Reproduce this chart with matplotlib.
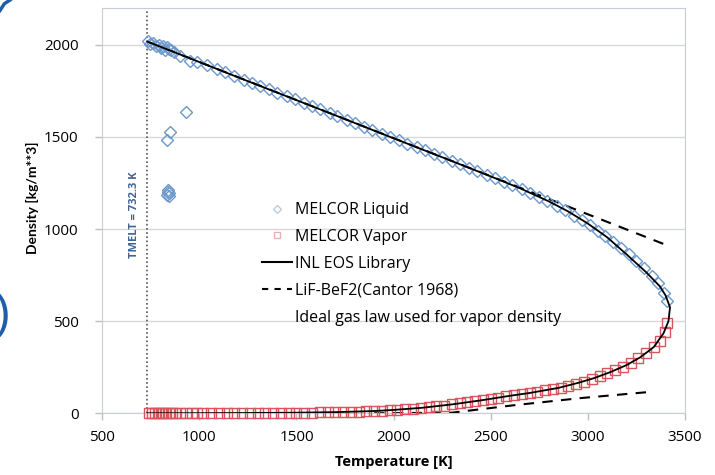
import numpy as np
import matplotlib.pyplot as plt
from matplotlib.lines import Line2D

plt.rcParams['font.family'] = ['Open Sans', 'DejaVu Sans']

# INL EOS library curve (liquid branch then vapor branch)
inl_T = [732, 1000, 1250, 1500, 1750, 2000, 2250, 2500, 2650, 2800, 2900, 3000,
         3100, 3200, 3300, 3370, 3400, 3423,
         3415, 3390, 3340, 3270, 3200, 3115, 3030, 2950, 2850, 2700, 2600, 2450,
         2300, 2150, 2000, 1900, 1700, 1500, 1200, 900, 732]
inl_rho = [2018, 1907, 1803, 1700, 1597, 1493, 1390, 1286, 1222, 1150, 1095, 1030,
           955, 862, 766, 690, 640, 575,
           500, 435, 360, 304, 262, 223, 190, 165, 138, 110, 95, 70,
           48, 30, 18, 12, 6, 3, 1, 0, 0]

# Cantor 1968 correlation
cantor_liq_T = [732, 3400]
cantor_liq_rho = [2018, 915]
cantor_vap_T = [1900, 2300, 2615, 2960, 3300]
cantor_vap_rho = [0, 3, 43, 82, 114]

# MELCOR liquid
liq_T = [735, 745, 760, 775, 790, 805, 815, 825, 835, 845, 855, 870, 900, 950, 990,
         1040, 1090, 1130, 1180, 1230, 1270, 1310, 1360, 1400, 1450, 1490, 1540,
         1580, 1620, 1670, 1710, 1760, 1800, 1850, 1890, 1940, 1980, 2030, 2070,
         2120, 2160, 2210, 2250, 2300, 2340, 2390, 2430, 2480, 2520, 2570, 2610,
         2660, 2700, 2750, 2790, 2840, 2880, 2930, 2970, 3010, 3050, 3090, 3130,
         3170, 3210, 3250, 3290, 3330, 3360, 3390, 3410,
         932, 850, 834, 838, 842, 835, 845, 840]
liq_rho = [2020, 2005, 2012, 1995, 2000, 1985, 1995, 1975, 1990, 1980, 1970, 1960,
           1940, 1912, 1905, 1890, 1870, 1853, 1833, 1812, 1795, 1779, 1758, 1741,
           1721, 1704, 1683, 1667, 1650, 1630, 1613, 1592, 1576, 1555, 1539, 1518,
           1501, 1481, 1464, 1443, 1427, 1406, 1390, 1369, 1352, 1332, 1315, 1294,
           1278, 1257, 1240, 1218, 1198, 1174, 1153, 1126, 1103, 1073, 1048, 1020,
           992, 962, 931, 898, 862, 825, 786, 743, 705, 655, 610,
           1636, 1527, 1484, 1210, 1195, 1185, 1180, 1200]

# MELCOR vapor
vap_T = [740, 755, 770, 785, 800, 815, 830, 845, 860, 875, 900, 930, 960, 990,
         1020, 1060, 1100, 1140, 1180, 1220, 1260, 1300, 1340, 1380, 1420, 1460,
         1500, 1540, 1580, 1620, 1660, 1700, 1740, 1780, 1820, 1860, 1900, 1940,
         1980, 2020, 2060, 2100, 2140, 2180, 2220, 2260, 2300, 2340, 2380, 2420,
         2460, 2500, 2540, 2580, 2620, 2660, 2700, 2740, 2780, 2820, 2860, 2900,
         2940, 2980, 3020, 3060, 3100, 3140, 3180, 3220, 3260, 3300, 3340, 3370,
         3395, 3410]
vap_rho = [0, 0, 0, 0, 0, 0, 0, 0, 0, 0, 0, 0, 0, 0,
           1, 1, 1, 1, 1, 2, 2, 2, 2, 3, 3, 3,
           3, 4, 4, 5, 5, 6, 7, 8, 9, 10, 12, 14,
           16, 19, 22, 25, 29, 33, 37, 42, 48, 53, 59, 65,
           72, 78, 84, 91, 97, 104, 110, 117, 124, 131, 139, 148,
           158, 170, 185, 200, 216, 233, 251, 272, 298, 328, 362, 395,
           440, 490]

t_melt = 732.3

fig = plt.figure(figsize=(7.15, 4.75), dpi=100)
ax = fig.add_axes([0.143, 0.13, 0.815, 0.853])

ax.plot(vap_T, vap_rho, ls='none', marker='s', ms=7.5, mfc='none', mec='#D9545C',
        mew=1.0, label='MELCOR Vapor', zorder=3, clip_on=False)
ax.plot(liq_T, liq_rho, ls='none', marker='D', ms=6.5, mfc='none', mec='#6C98CC',
        mew=1.0, label='MELCOR Liquid', zorder=3)
ax.plot(inl_T, inl_rho, color='black', lw=1.3, label='INL EOS Library', zorder=4)
ax.plot(cantor_liq_T, cantor_liq_rho, color='black', lw=1.5, ls=(0, (5, 4)),
        label='LiF-BeF2(Cantor 1968)', zorder=2)
ax.plot(cantor_vap_T, cantor_vap_rho, color='black', lw=1.5, ls=(0, (5, 4)), zorder=2)

ax.axvline(t_melt, color='#555555', lw=1.2, ls=(0, (1, 1.5)), zorder=2)
ax.text(668, 1076, 'TMELT = 732.3 K', rotation=90, ha='center', va='center',
        color='#3E6497', fontsize=8, fontweight='bold')

ax.set_xlim(500, 3500)
ax.set_ylim(0, 2200)
ax.set_xticks([500, 1000, 1500, 2000, 2500, 3000, 3500])
ax.set_yticks([0, 500, 1000, 1500, 2000])
ax.yaxis.grid(True, color='#D9D9D9', lw=1)
ax.set_axisbelow(True)
ax.tick_params(axis='both', labelsize=11, color='#BFBFBF', length=5, width=1)
ax.tick_params(axis='y', pad=12)
ax.tick_params(axis='x', pad=7)
for s in ax.spines.values():
    s.set_color('#C8CCD8')
ax.set_xlabel('Temperature [K]', fontsize=10.5, fontweight='bold', labelpad=7)
ax.set_ylabel('Density [kg/m**3]', fontsize=10, fontweight='bold',
              family=['Lato', 'DejaVu Sans'])
ax.yaxis.set_label_coords(-0.108, 0.533)

handles = [
    Line2D([], [], ls='none', marker='D', ms=4, mfc='none', mec='#B8CCE4', mew=1),
    Line2D([], [], ls='none', marker='s', ms=5, mfc='none', mec='#EBB0B4', mew=1),
    Line2D([], [], color='black', lw=1.5),
    Line2D([], [], color='black', lw=1.5, ls=(0, (3, 3))),
    Line2D([], [], ls='none'),
]
labels = ['MELCOR Liquid', 'MELCOR Vapor', 'INL EOS Library',
          'LiF-BeF2(Cantor 1968)', 'Ideal gas law used for vapor density']
ax.legend(handles, labels, loc='upper left', bbox_to_anchor=(0.274, 0.521),
          frameon=False, fontsize=11.5, labelspacing=0.68, handlelength=1.9,
          handletextpad=0.2, borderaxespad=0, borderpad=0)

fig.text(-0.008, 0.335, ')', color='#1F5FA8', fontsize=36, va='center', ha='left')
fig.add_artist(Line2D([0.0, 0.006, 0.014], [0.978, 0.992, 1.0], color='#1F5FA8', lw=2.5))

fig.savefig('out.png', dpi=100)
